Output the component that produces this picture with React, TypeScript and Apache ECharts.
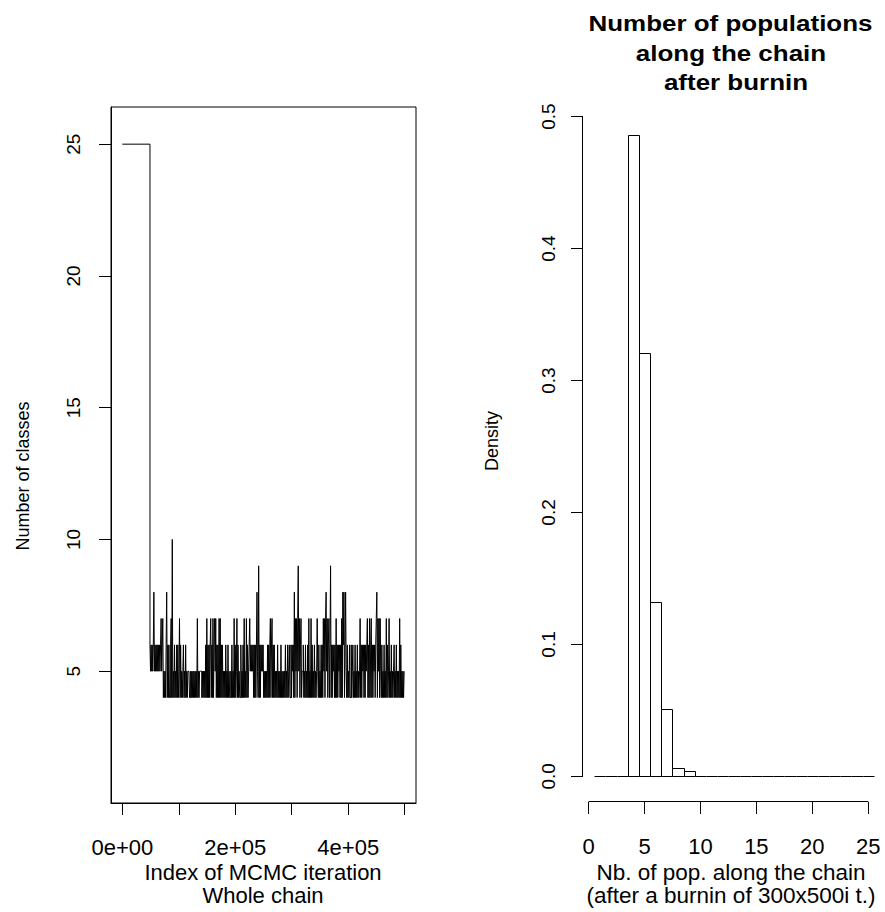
import React, { useEffect, useRef } from "react";
import * as echarts from "echarts";

// ---------- data ----------
// Trace (left panel): initial burn-in value and the chain read column by column
const burnInValue = 25;
const burnInEnd = 49000;
const chainEnd = 500000;
// one character per recorded state, "a" = 10
const traceChunks = [
  "656565685656565656",
  "567567454546846464",
  "4674a4546454646457",
  "464545645464545554",
  "454545454545474545",
  "555454545464746464",
  "674647467574646474",
  "746464545464546454",
  "454645474645746454",
  "464546474547464567",
  "565656464646854946",
  "465656454545464646",
  "746746464545464545",
  "464545454645464564",
  "464656484757479574",
  "674556454645464745",
  "474645464545754645",
  "464647574785746746",
  "946465646474646564",
  "647486846854645464",
  "464564546454645457",
  "464656464656746474",
  "674646564678475747",
  "546454645474645745",
  "464545645464545474",
  "64545455",
];

const leftYTicks = [5, 10, 15, 20, 25];
const leftXTicks = [0, 100000, 200000, 300000, 400000, 500000];
const leftXLabels = [0, 200000, 400000];

// Histogram (right panel)
const histBins = [1, 2, 3, 4, 5, 6, 7, 8, 9, 10, 11, 12, 13, 14, 15, 16, 17, 18, 19, 20, 21, 22, 23, 24, 25];
const histDensity = [0, 0, 0, 0.486, 0.321, 0.132, 0.051, 0.006, 0.004, 0, 0, 0, 0, 0, 0, 0, 0, 0, 0, 0, 0, 0, 0, 0, 0];
const binWidth = 1;
const rightXTicks = [0, 5, 10, 15, 20, 25];
const rightYTicks = [0, 0.1, 0.2, 0.3, 0.4, 0.5];

// ---------- build ----------
const FONT = "'Liberation Sans', Arial, sans-serif";

const chainValues = traceChunks
  .join("")
  .split("")
  .map((c) => (c === "a" ? 10 : Number(c)));
const stepIter = (chainEnd - burnInEnd) / (chainValues.length - 1);
const traceData: number[][] = [[0, burnInValue]].concat(
  chainValues.map((v, i) => [burnInEnd + i * stepIter, v])
);

const histData = histBins.map((b, i) => [b, histDensity[i]]);

const rXMin = -0.5, rXMax = 26.5;
const rYMin = -0.0194, rYMax = 0.505;

const sciLabel = (v: number) => {
  if (v === 0) return "0e+00";
  const e = Math.floor(Math.log10(v));
  const m = Math.round(v / Math.pow(10, e));
  return `${m}e+${String(e).padStart(2, "0")}`;
};

const labelStyle = { color: "#000", fontFamily: FONT, fontSize: 22 };
const rotLabelStyle = { color: "#000", fontFamily: FONT, fontSize: 19 };
const tickStyle = { lineStyle: { color: "#000", width: 1 } };

const snap = (v: number) => Math.round(v) + 0.5;

const option: any = {
  animation: false,
  backgroundColor: "#fff",
  grid: [
    { left: 111, top: 107, width: 305, height: 696, show: true, borderColor: "#000", borderWidth: 1, backgroundColor: "transparent", containLabel: false },
    { left: 583, top: 110, width: 305, height: 692, show: false, containLabel: false },
  ],
  xAxis: [
    {
      gridIndex: 0, type: "value", min: -20000, max: 520000,
      axisLine: { show: true, onZero: false, lineStyle: { color: "#000" } },
      axisTick: { show: true, inside: false, length: 12, customValues: leftXTicks, ...tickStyle },
      axisLabel: { show: true, customValues: leftXLabels, margin: 33, formatter: (v: number) => sciLabel(v), ...labelStyle },
      splitLine: { show: false },
    },
    {
      gridIndex: 1, type: "value", min: rXMin, max: rXMax,
      axisLine: { show: false, onZero: false },
      axisTick: { show: true, inside: false, length: 12, customValues: rightXTicks, ...tickStyle },
      axisLabel: { show: true, customValues: rightXTicks, margin: 33, ...labelStyle },
      splitLine: { show: false },
    },
  ],
  yAxis: [
    {
      gridIndex: 0, type: "value", min: 0, max: 26.41,
      axisLine: { show: true, onZero: false, lineStyle: { color: "#000" } },
      axisTick: { show: true, inside: false, length: 12, customValues: leftYTicks, ...tickStyle },
      axisLabel: { show: true, customValues: leftYTicks, rotate: 90, margin: 28, ...rotLabelStyle },
      splitLine: { show: false },
    },
    {
      gridIndex: 1, type: "value", min: rYMin, max: rYMax,
      axisLine: { show: false, onZero: false },
      axisTick: { show: true, inside: false, length: 12, customValues: rightYTicks, ...tickStyle },
      axisLabel: { show: true, customValues: rightYTicks, rotate: 90, margin: 25, formatter: (v: number) => v.toFixed(1), ...rotLabelStyle },
      splitLine: { show: false },
    },
  ],
  series: [
    {
      type: "line",
      xAxisIndex: 0,
      yAxisIndex: 0,
      data: traceData,
      step: "end",
      showSymbol: false,
      symbol: "none",
      lineStyle: { color: "#000", width: 1 },
      silent: true,
    },
    {
      type: "custom",
      xAxisIndex: 1,
      yAxisIndex: 1,
      data: histData,
      clip: false,
      silent: true,
      renderItem: (params: any, api: any) => {
        const c = api.value(0);
        const d = api.value(1);
        const pTop = api.coord([c - binWidth / 2, d]);
        const pBot = api.coord([c + binWidth / 2, 0]);
        const x0 = snap(pTop[0]), x1 = snap(pBot[0]);
        const y0 = snap(pTop[1]), y1 = snap(pBot[1]);
        if (d > 0) {
          return {
            type: "rect",
            shape: { x: x0, y: y0, width: x1 - x0, height: y1 - y0 },
            style: { fill: "#fff", stroke: "#000", lineWidth: 1 },
          };
        }
        return {
          type: "line",
          shape: { x1: x0, y1: y1, x2: x1, y2: y1 },
          style: { stroke: "#000", lineWidth: 1 },
        };
      },
    },
    {
      type: "custom",
      xAxisIndex: 1,
      yAxisIndex: 1,
      data: [[0, 0]],
      clip: false,
      silent: true,
      renderItem: (params: any, api: any) => {
        const xa0 = api.coord([rightXTicks[0], rYMin]);
        const xa1 = api.coord([rightXTicks[rightXTicks.length - 1], rYMin]);
        const ya0 = api.coord([rXMin, rightYTicks[0]]);
        const ya1 = api.coord([rXMin, rightYTicks[rightYTicks.length - 1]]);
        return {
          type: "group",
          children: [
            { type: "line", shape: { x1: xa0[0], y1: snap(xa0[1]) - 1, x2: xa1[0], y2: snap(xa1[1]) - 1 }, style: { stroke: "#000", lineWidth: 1 } },
            { type: "line", shape: { x1: snap(ya0[0]) - 1, y1: ya0[1], x2: snap(ya1[0]) - 1, y2: ya1[1] }, style: { stroke: "#000", lineWidth: 1 } },
          ],
        };
      },
    },
  ],
  graphic: [
    { type: "text", x: 23, y: 476, rotation: Math.PI / 2, style: { text: "Number of classes", textAlign: "center", textVerticalAlign: "middle", fill: "#000", font: `18px ${FONT}` } },
    { type: "text", x: 263, y: 872, style: { text: "Index of MCMC iteration", textAlign: "center", textVerticalAlign: "middle", fill: "#000", font: `22px ${FONT}` } },
    { type: "text", x: 263, y: 895, style: { text: "Whole chain", textAlign: "center", textVerticalAlign: "middle", fill: "#000", font: `22px ${FONT}` } },
    { type: "text", x: 492, y: 441, rotation: Math.PI / 2, style: { text: "Density", textAlign: "center", textVerticalAlign: "middle", fill: "#000", font: `18px ${FONT}` } },
    { type: "text", x: 731, y: 872, style: { text: "Nb. of pop. along the chain", textAlign: "center", textVerticalAlign: "middle", fill: "#000", font: `22.5px ${FONT}` } },
    { type: "text", x: 731, y: 895, style: { text: "(after a burnin of 300x500i t.)", textAlign: "center", textVerticalAlign: "middle", fill: "#000", font: `22.5px ${FONT}` } },
    { type: "text", x: 730.5, y: 23, scaleX: 1.18, style: { text: "Number of populations", textAlign: "center", textVerticalAlign: "middle", fill: "#000", font: `bold 22px ${FONT}` } },
    { type: "text", x: 731, y: 53, scaleX: 1.18, style: { text: "along the chain", textAlign: "center", textVerticalAlign: "middle", fill: "#000", font: `bold 22px ${FONT}` } },
    { type: "text", x: 736, y: 82, scaleX: 1.18, style: { text: "after burnin", textAlign: "center", textVerticalAlign: "middle", fill: "#000", font: `bold 22px ${FONT}` } },
  ],
};

export default function App() {
  const ref = useRef<HTMLDivElement>(null);
  useEffect(() => {
    if (!ref.current) return;
    const chart = echarts.init(ref.current, null, { renderer: "svg" });
    chart.setOption(option);
    return () => {
      chart.dispose();
    };
  }, []);
  return (
    <div
      ref={ref}
      style={{ position: "absolute", left: 0, top: 0, width: 885, height: 912, background: "#fff" }}
    />
  );
}
